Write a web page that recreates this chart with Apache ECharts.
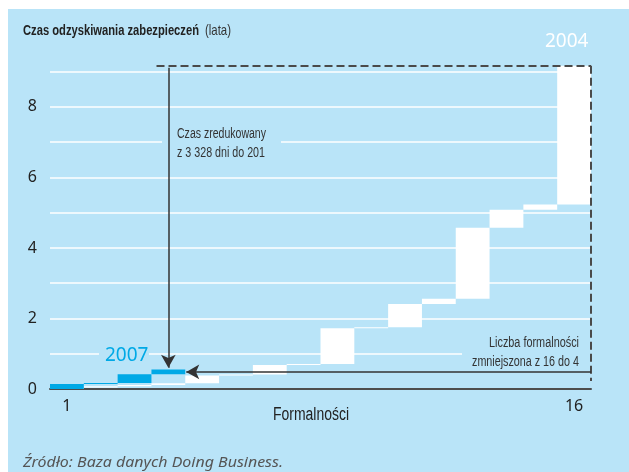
<!DOCTYPE html>
<html>
<head>
<meta charset="utf-8">
<script src="https://cdn.jsdelivr.net/npm/echarts@6/dist/echarts.min.js"></script>
<style>
  html, body { margin: 0; padding: 0; background: #fff; }
  #wrap { position: relative; width: 629px; height: 472px; }
  #bg { position: absolute; left: 8px; top: 9px; right: 0; bottom: 0; background: #b9e4f8; }
  #main { position: absolute; left: 0; top: 0; width: 629px; height: 472px; }
</style>
</head>
<body>
<div id="wrap"><div id="bg"></div><div id="main"></div></div>
<script>
var categories = ['1', '2', '3', '4', '5', '6', '7', '8', '9', '10', '11', '12', '13', '14', '15', '16'];
var shownCategoryLabels = ['1', '16'];
var yTickLabels = [0, 2, 4, 6, 8];

// duration of each formality, years
var steps2004 = [0.04, 0.04, 0.03, 0.05, 0.22, 0.03, 0.27, 0.03, 1.01, 0.03, 0.66, 0.15, 2.01, 0.51, 0.15, 3.94];
var steps2007 = [0.14, 0.03, 0.25, 0.13];

var ARIAL = "'Liberation Sans', Arial, sans-serif";
var SANS = "'Noto Sans', 'Open Sans', sans-serif";
var BLUE = '#00a9e6';
var BG = '#b9e4f8';

function bases(steps, n) {
    var out = [], acc = 0;
    for (var i = 0; i < n; i++) {
        if (i < steps.length) { out.push(acc); acc += steps[i]; } else out.push('-');
    }
    return out;
}
function pad(steps, n) {
    var out = steps.slice();
    while (out.length < n) out.push('-');
    return out;
}
function sum(a) { return a.reduce(function (s, v) { return s + v; }, 0); }

// condensed look: squeeze a text horizontally to the width it has in the source
var mctx = document.createElement('canvas').getContext('2d');
function narrowText(str, font, x, y, width, color, align) {
    mctx.font = font;
    var sx = width / mctx.measureText(str).width;
    return {
        type: 'text', x: x, y: y, scaleX: sx, z: 5, silent: true,
        style: { text: str, font: font, fill: color || '#333', align: align || 'left', verticalAlign: 'middle' }
    };
}

var total2004 = sum(steps2004), total2007 = sum(steps2007);
var n = categories.length;
var arrowLevel = total2007 - steps2007[steps2007.length - 1] / 2;

var chart = echarts.init(document.getElementById('main'));

var option = {
    animation: false,
    grid: { left: 50, right: 38, top: 54, bottom: 83 },
    xAxis: [{
        type: 'category',
        data: categories,
        axisLine: { lineStyle: { color: '#4d4d4d', width: 2 } },
        axisTick: { length: 5, lineStyle: { color: '#4d4d4d', width: 1.5 } },
        axisLabel: {
            interval: 0, margin: 9, fontFamily: SANS, fontSize: 16, color: '#222',
            formatter: function (v) { return shownCategoryLabels.indexOf(v) >= 0 ? v : ''; }
        },
        splitLine: { show: false }
    }, {
        type: 'value', min: 0, max: n, show: false
    }],
    yAxis: {
        type: 'value', min: 0, max: 9.5, interval: 1,
        axisLine: { show: false }, axisTick: { show: false },
        axisLabel: {
            margin: 13, fontFamily: SANS, fontSize: 16, color: '#222',
            formatter: function (v) { return yTickLabels.indexOf(v) >= 0 ? String(v) : ''; }
        },
        splitLine: { show: true, showMinLine: false, showMaxLine: false, lineStyle: { color: '#fff', width: 1.5 } }
    },
    series: [
        { type: 'bar', stack: 'y2004', data: bases(steps2004, n), itemStyle: { color: 'transparent' },
          barCategoryGap: '0%', barGap: '-100%', silent: true },
        { type: 'bar', stack: 'y2004', data: pad(steps2004, n), itemStyle: { color: '#fff' }, silent: true },
        { type: 'bar', stack: 'y2007', data: bases(steps2007, n), itemStyle: { color: 'transparent' }, silent: true },
        { type: 'bar', stack: 'y2007', data: pad(steps2007, n), itemStyle: { color: BLUE }, silent: true },
        {
            type: 'line', xAxisIndex: 1, data: [], silent: true,
            markLine: {
                silent: true, animation: false,
                label: { show: false },
                symbol: 'none',
                data: [
                    [{ coord: [3.15, total2004], lineStyle: { color: '#4a4a4a', width: 2, type: [8, 4] } },
                     { coord: [n, total2004] }],
                    [{ coord: [n, total2004], lineStyle: { color: '#4a4a4a', width: 2, type: [8, 4] } },
                     { coord: [n, 0.23] }],
                    [{ coord: [3.5, total2004 - 0.06], symbol: 'none', lineStyle: { color: '#333', width: 1.5, type: 'solid' } },
                     { coord: [3.5, 0.6], symbol: 'arrow', symbolSize: [11, 13] }],
                    [{ coord: [n, arrowLevel], symbol: 'none', lineStyle: { color: '#333', width: 1.5, type: 'solid' } },
                     { coord: [4.03, arrowLevel], symbol: 'arrow', symbolSize: [11, 13] }]
                ]
            }
        }
    ],
    graphic: [
        // gaps cut into the grid lines behind the annotations
        { type: 'rect', z: 1, silent: true, shape: { x: 99, y: 349, width: 50, height: 10 }, style: { fill: BG } },
        { type: 'rect', z: 1, silent: true, shape: { x: 162, y: 124, width: 119, height: 40 }, style: { fill: BG } },
        { type: 'rect', z: 1, silent: true, shape: { x: 462, y: 333, width: 129, height: 38 }, style: { fill: BG } },

        narrowText('Czas odzyskiwania zabezpieczeń', 'bold 15px ' + ARIAL, 23, 30.5, 176, '#222'),
        narrowText('(lata)', '15px ' + ARIAL, 205, 30.5, 26, '#333'),
        narrowText('Czas zredukowany', '14px ' + ARIAL, 177, 134, 89, '#333'),
        narrowText('z 3 328 dni do 201', '14px ' + ARIAL, 177, 153, 88, '#333'),
        narrowText('Liczba formalności', '14px ' + ARIAL, 579, 343, 90, '#333', 'right'),
        narrowText('zmniejszona z 16 do 4', '14px ' + ARIAL, 579, 362, 107, '#333', 'right'),
        narrowText('Formalności', '18px ' + ARIAL, 273, 415, 76, '#222'),
        narrowText('Źródło: Baza danych Doing Business.', 'italic 15px ' + SANS, 23, 463, 260, '#555'),

        { type: 'text', x: 545, y: 42, z: 5, silent: true,
          style: { text: '2004', font: '19px ' + SANS, fill: '#fff', verticalAlign: 'middle' } },
        { type: 'text', x: 105, y: 356, z: 5, silent: true,
          style: { text: '2007', font: '19px ' + SANS, fill: BLUE, verticalAlign: 'middle' } }
    ]
};

chart.setOption(option);
</script>
</body>
</html>
